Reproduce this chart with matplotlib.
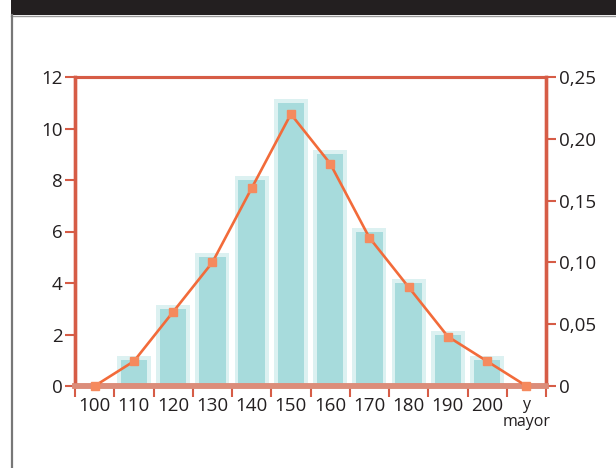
import matplotlib
matplotlib.use("Agg")
import matplotlib.pyplot as plt
from matplotlib.patches import Rectangle
from matplotlib.lines import Line2D
import numpy as np

categories = ["100", "110", "120", "130", "140", "150", "160", "170", "180", "190", "200", "y\nmayor"]
frequencies = [0, 1, 3, 5, 8, 11, 9, 6, 4, 2, 1, 0]
relative = [0, 0.02, 0.06, 0.10, 0.16, 0.22, 0.18, 0.12, 0.08, 0.04, 0.02, 0]
left_ticks = [0, 2, 4, 6, 8, 10, 12]
right_ticks = [0, 0.05, 0.10, 0.15, 0.20, 0.25]
right_labels = ["0", "0,05", "0,10", "0,15", "0,20", "0,25"]

plt.rcParams['font.family'] = ['Open Sans', 'DejaVu Sans']

W, H = 616, 468
fig = plt.figure(figsize=(W / 100, H / 100), dpi=100)
fig.patch.set_facecolor("white")

# banner and frame
fig.add_artist(Rectangle((11 / W, 1 - 15 / H), 1, 15 / H, transform=fig.transFigure,
                         facecolor="#231f20", edgecolor="none"))
fig.add_artist(Line2D([11 / W, 1], [1 - 16 / H, 1 - 16 / H], transform=fig.transFigure,
                      color="#9a9a9a", lw=1))
fig.add_artist(Line2D([11.5 / W, 11.5 / W], [0, 1 - 15 / H], transform=fig.transFigure,
                      color="#777777", lw=1.6))

left, right, top, bottom = 75, 546, 77, 386
ax = fig.add_axes([left / W, 1 - bottom / H, (right - left) / W, (bottom - top) / H])
ax2 = ax.twinx()

x = np.arange(len(categories))
bar_main = "#a7dbdc"
bar_halo = "#dcf1f1"
ax.bar(x, [f + 0.15 if f > 0 else 0 for f in frequencies], width=0.86, color=bar_halo, zorder=1)
ax.bar(x, frequencies, width=0.68, color=bar_main, zorder=2)

ax.set_xlim(-0.5, len(categories) - 0.5)
ax.set_ylim(0, 12)
ax2.set_ylim(0, 0.25)

line_col = "#f26b3a"
ax2.plot(x, relative, color=line_col, lw=1.9, zorder=5, clip_on=False)
ax2.plot(x, relative, ls="none", marker="s", ms=6, color="#f58a5e", zorder=6, clip_on=False)

red = "#d65c46"
for a in (ax, ax2):
    a.spines["top"].set_color(red)
    a.spines["top"].set_linewidth(2.2)
    a.spines["left"].set_color(red)
    a.spines["left"].set_linewidth(2.4)
    a.spines["right"].set_color(red)
    a.spines["right"].set_linewidth(2.4)
    a.spines["bottom"].set_color("#dc8d7a")
    a.spines["bottom"].set_linewidth(4)

fs = 13.5
ax.set_yticks(left_ticks)
ax.set_yticklabels([str(t) for t in left_ticks])
ax.tick_params(axis="y", direction="out", length=7, width=1.5, color=red,
               labelsize=fs, labelcolor="#231f20", pad=2)
ax2.set_yticks(right_ticks)
ax2.set_yticklabels(right_labels)
ax2.tick_params(axis="y", direction="out", length=7, width=1.5, color=red,
                labelsize=fs, labelcolor="#231f20", pad=2)

ax.set_xticks(x)
ax.set_xticklabels(categories)
ax.set_xticks(np.arange(-0.5, len(categories)), minor=True)
ax.tick_params(axis="x", which="major", length=0, labelsize=fs, labelcolor="#231f20", pad=8)
ax.tick_params(axis="x", which="minor", direction="out", length=8, width=1.5, color=red)
lbls = ax.get_xticklabels()
lbls[-1].set_fontsize(11.5)
lbls[-1].set_linespacing(1.05)
lbls[-1].set_verticalalignment("top")

ax.set_zorder(1)
ax2.set_zorder(2)
ax2.patch.set_visible(False)

fig.savefig("out.png", dpi=100)
